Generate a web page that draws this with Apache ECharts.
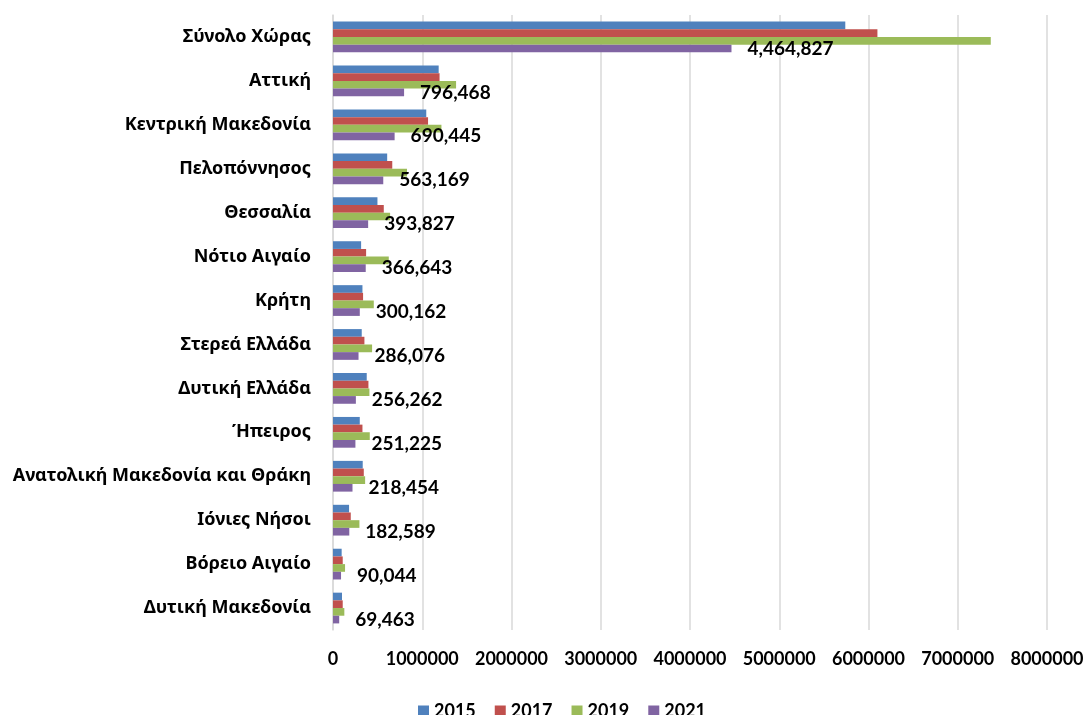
<!DOCTYPE html>
<html>
<head>
<meta charset="utf-8">
<script src="https://cdn.jsdelivr.net/npm/echarts@6/dist/echarts.min.js"></script>
<style>
html,body{margin:0;padding:0;background:#fff;}
#chart{width:1088px;height:715px;}
</style>
</head>
<body>
<div id="chart"></div>
<script>
const categories = ["Σύνολο Χώρας","Αττική","Κεντρική Μακεδονία","Πελοπόννησος","Θεσσαλία","Νότιο Αιγαίο","Κρήτη","Στερεά Ελλάδα","Δυτική Ελλάδα","Ήπειρος","Ανατολική Μακεδονία και Θράκη","Ιόνιες Νήσοι","Βόρειο Αιγαίο","Δυτική Μακεδονία"];
const years = ["2015","2017","2019","2021"];
const values2015 = [5740000,1184000,1045000,607000,498000,315000,330000,322000,378000,300000,333000,180000,97000,101000];
const values2017 = [6100000,1194000,1065000,664000,569000,371000,337000,352000,397000,330000,345000,199000,109000,109000];
const values2019 = [7370000,1379000,1215000,829000,640000,625000,457000,438000,408000,412000,360000,296000,135000,127000];
const values2021 = [4464827,796468,690445,563169,393827,366643,300162,286076,256262,251225,218454,182589,90044,69463];
const xTicks = [0,1000000,2000000,3000000,4000000,5000000,6000000,7000000,8000000];

const colors = ["#4F81BD","#C0504D","#9BBB59","#8064A2"];
const font = 'Lato, "Noto Sans", sans-serif';
const catFont = '"Noto Sans", sans-serif';
const allValues = [values2015, values2017, values2019, values2021];

const chart = echarts.init(document.getElementById('chart'), null, {renderer:'canvas'});
const series = years.map((y, i) => ({
  name: y,
  type: 'bar',
  data: allValues[i],
  itemStyle: {color: colors[i]},
  barGap: '0%',
  barCategoryGap: '30%',
  label: i === 3 ? {
    show: true,
    position: 'right',
    distance: 16,
    color: '#000',
    fontFamily: font,
    fontWeight: 'bold',
    fontSize: 19,
    formatter: p => p.value.toLocaleString('en-US')
  } : {show: false}
}));

chart.setOption({
  animation: false,
  color: colors,
  grid: {left: 333, right: 41, top: 15, bottom: 85, containLabel: false},
  legend: {
    data: years,
    left: 413,
    top: 697,
    itemWidth: 11,
    itemHeight: 11,
    itemGap: 19,
    icon: 'rect',
    textStyle: {fontFamily: font, fontWeight: 'bold', fontSize: 18, color: '#000'}
  },
  xAxis: {
    type: 'value',
    min: xTicks[0],
    max: xTicks[xTicks.length - 1],
    interval: 1000000,
    axisLine: {show: false},
    axisTick: {show: false},
    axisLabel: {fontFamily: font, fontWeight: 'bold', fontSize: 18, color: '#000', margin: 20, formatter: v => String(v)},
    splitLine: {show: true, lineStyle: {color: '#d9d9d9', width: 1.5}}
  },
  yAxis: {
    type: 'category',
    data: categories,
    inverse: true,
    axisLine: {show: true, lineStyle: {color: '#d9d9d9', width: 1.5}},
    axisTick: {show: false},
    axisLabel: {fontFamily: catFont, fontWeight: 'bold', fontSize: 18, color: '#000', margin: 22}
  },
  series: series
});
</script>
</body>
</html>
